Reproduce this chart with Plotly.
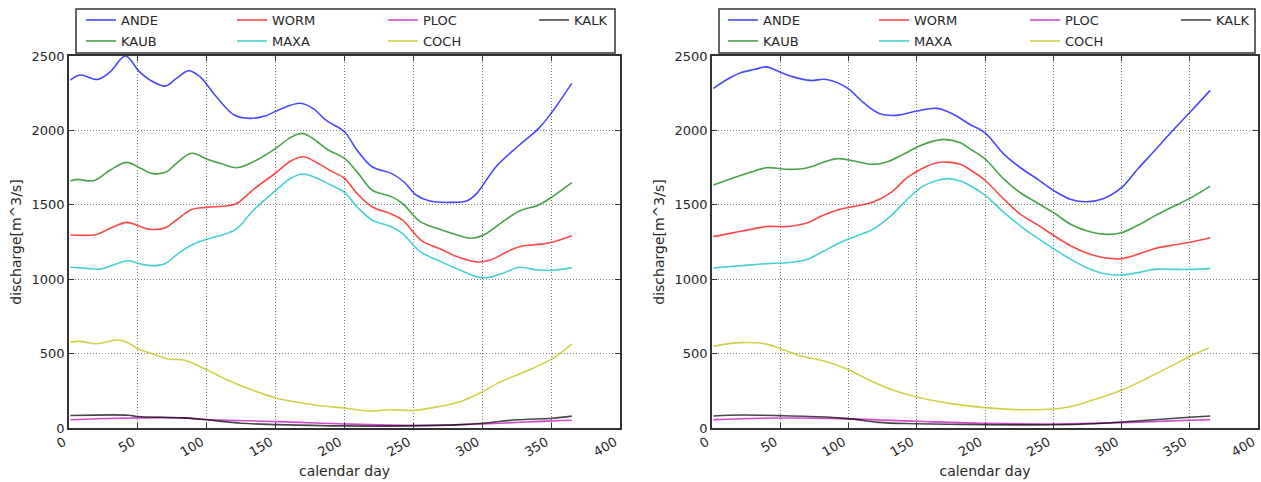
import plotly.graph_objects as go

W, H = 1261, 482

# ---------------- data: left panel (daily climatology) ----------------
ANDE_L_DAY = [1, 8, 21, 30, 41, 51, 60, 70, 78, 87, 95, 107, 120, 131, 143, 153, 168, 177, 187, 200,
              209, 220, 234, 243, 252, 262, 277, 289, 296, 310, 327, 341, 350, 365]
ANDE_L = [2338, 2372, 2343, 2395, 2500, 2395, 2332, 2298, 2350, 2401, 2361, 2226, 2103, 2081, 2099, 2141,
          2182, 2148, 2065, 1991, 1868, 1756, 1711, 1655, 1566, 1525, 1516, 1527, 1577, 1756, 1902, 2014,
          2115, 2316]

KAUB_L_DAY = [1, 6, 18, 30, 42, 52, 60, 70, 78, 89, 100, 112, 122, 134, 149, 161, 169, 177, 188, 200,
              209, 220, 234, 242, 255, 267, 282, 292, 301, 315, 327, 341, 351, 365]
KAUB_L = [1660, 1671, 1662, 1734, 1785, 1745, 1711, 1718, 1779, 1846, 1808, 1772, 1749, 1790, 1873, 1953,
          1980, 1946, 1870, 1812, 1723, 1599, 1555, 1510, 1387, 1342, 1297, 1275, 1297, 1387, 1458, 1499,
          1555, 1649]

WORM_L_DAY = [1, 20, 30, 42, 52, 59, 70, 78, 89, 100, 115, 122, 134, 149, 161, 170, 180, 190, 200, 209,
              220, 234, 242, 256, 270, 282, 296, 306, 318, 329, 341, 352, 365]
WORM_L = [1297, 1301, 1342, 1382, 1353, 1335, 1346, 1398, 1469, 1483, 1494, 1510, 1604, 1707, 1794, 1823,
          1783, 1728, 1678, 1577, 1487, 1438, 1398, 1259, 1201, 1151, 1116, 1129, 1185, 1223, 1234, 1252,
          1292]

MAXA_L_DAY = [1, 13, 23, 32, 43, 52, 60, 70, 78, 89, 100, 115, 122, 134, 149, 161, 170, 180, 190, 200,
              209, 220, 234, 242, 255, 270, 282, 296, 304, 316, 327, 340, 352, 365]
MAXA_L = [1080, 1073, 1068, 1095, 1124, 1102, 1091, 1106, 1163, 1230, 1268, 1308, 1342, 1465, 1588, 1678,
          1707, 1678, 1633, 1584, 1487, 1398, 1353, 1308, 1185, 1118, 1068, 1017, 1010, 1044, 1080, 1062,
          1060, 1078]

COCH_L_DAY = [1, 8, 20, 35, 42, 50, 61, 72, 84, 100, 115, 133, 150, 165, 184, 200, 217, 234, 250, 269,
              285, 300, 311, 330, 351, 365]
COCH_L = [577, 582, 566, 591, 577, 532, 498, 464, 455, 391, 323, 255, 202, 175, 148, 134, 114, 123, 118,
          145, 180, 243, 300, 375, 466, 566]

KALK_L_DAY = [1, 43, 50, 83, 100, 125, 152, 200, 250, 285, 300, 325, 351, 365]
KALK_L = [84, 86, 77, 68, 55, 32, 23, 14, 14, 23, 32, 55, 66, 80]

PLOC_L_DAY = [1, 35, 83, 100, 152, 200, 250, 300, 350, 365]
PLOC_L = [55, 66, 68, 57, 43, 27, 18, 27, 48, 52]

# ---------------- data: right panel (smoothed climatology) ----------------
ANDE_R_DAY = [1, 11, 21, 31, 40, 50, 60, 72, 84, 99, 111, 123, 135, 150, 165, 177, 189, 200, 214, 226,
              238, 251, 263, 275, 287, 300, 312, 324, 336, 351, 365]
ANDE_R = [2282, 2342, 2387, 2409, 2427, 2391, 2358, 2336, 2342, 2286, 2186, 2112, 2101, 2130, 2148, 2107,
          2040, 1984, 1839, 1749, 1675, 1592, 1536, 1521, 1543, 1615, 1742, 1861, 1984, 2130, 2269]

KAUB_R_DAY = [1, 16, 31, 40, 57, 70, 82, 92, 104, 118, 128, 140, 152, 162, 170, 182, 190, 200, 214, 226,
              238, 251, 263, 275, 290, 300, 312, 324, 336, 351, 365]
KAUB_R = [1633, 1682, 1727, 1749, 1738, 1749, 1787, 1810, 1794, 1772, 1787, 1839, 1895, 1928, 1940, 1917,
          1870, 1808, 1671, 1581, 1514, 1442, 1368, 1324, 1301, 1312, 1362, 1424, 1480, 1548, 1626]

WORM_R_DAY = [1, 16, 31, 40, 55, 70, 82, 94, 106, 118, 131, 143, 155, 165, 172, 182, 190, 200, 214, 226,
              238, 251, 263, 275, 287, 300, 312, 324, 336, 351, 365]
WORM_R = [1286, 1313, 1340, 1354, 1354, 1380, 1432, 1470, 1492, 1519, 1582, 1682, 1749, 1783, 1787, 1772,
          1730, 1665, 1536, 1436, 1368, 1290, 1223, 1174, 1144, 1138, 1167, 1205, 1227, 1250, 1279]

MAXA_R_DAY = [1, 21, 40, 57, 70, 82, 94, 106, 118, 131, 143, 155, 165, 173, 182, 190, 200, 214, 226, 238,
              251, 263, 275, 287, 300, 312, 324, 336, 351, 365]
MAXA_R = [1076, 1090, 1105, 1112, 1134, 1190, 1246, 1291, 1336, 1425, 1537, 1627, 1664, 1676, 1660, 1625,
          1565, 1447, 1357, 1279, 1200, 1133, 1076, 1038, 1028, 1044, 1066, 1066, 1066, 1073]

COCH_R_DAY = [1, 12, 22, 38, 50, 64, 83, 100, 117, 133, 150, 175, 200, 227, 250, 264, 280, 300, 319, 337,
              350, 364]
COCH_R = [549, 567, 574, 567, 534, 486, 448, 392, 314, 253, 208, 164, 137, 123, 128, 146, 191, 253, 336,
          419, 482, 538]

KALK_R_DAY = [1, 22, 50, 83, 100, 122, 150, 200, 250, 280, 300, 350, 365]
KALK_R = [81, 87, 83, 74, 63, 38, 29, 22, 22, 29, 40, 72, 81]

PLOC_R_DAY = [1, 50, 100, 150, 200, 250, 300, 350, 365]
PLOC_R = [56, 67, 61, 45, 31, 27, 36, 52, 56]

X_TICKS = [0, 50, 100, 150, 200, 250, 300, 350, 400]
Y_TICKS = [0, 500, 1000, 1500, 2000, 2500]

STATIONS = ["ANDE", "KAUB", "WORM", "MAXA", "PLOC", "COCH", "KALK"]
COLORS = {
    "ANDE": "rgba(0,0,255,0.72)",
    "KAUB": "rgba(0,128,0,0.72)",
    "WORM": "rgba(255,0,0,0.72)",
    "MAXA": "rgba(0,191,191,0.72)",
    "PLOC": "rgba(191,0,191,0.72)",
    "COCH": "rgba(191,191,0,0.72)",
    "KALK": "rgba(0,0,0,0.72)",
}
FIRST_ROW = {"ANDE", "WORM", "PLOC", "KALK"}

LEFT = {
    "ANDE": (ANDE_L_DAY, ANDE_L), "KAUB": (KAUB_L_DAY, KAUB_L), "WORM": (WORM_L_DAY, WORM_L),
    "MAXA": (MAXA_L_DAY, MAXA_L), "PLOC": (PLOC_L_DAY, PLOC_L), "COCH": (COCH_L_DAY, COCH_L),
    "KALK": (KALK_L_DAY, KALK_L),
}
RIGHT = {
    "ANDE": (ANDE_R_DAY, ANDE_R), "KAUB": (KAUB_R_DAY, KAUB_R), "WORM": (WORM_R_DAY, WORM_R),
    "MAXA": (MAXA_R_DAY, MAXA_R), "PLOC": (PLOC_R_DAY, PLOC_R), "COCH": (COCH_R_DAY, COCH_R),
    "KALK": (KALK_R_DAY, KALK_R),
}


def px_x(p):
    return p / W


def px_y(p):
    return 1 - p / H


FONT = "DejaVu Sans"
TXT = "#262626"

fig = go.Figure()

panels = [
    (LEFT, "x", "y", "legend", "legend2"),
    (RIGHT, "x2", "y2", "legend3", "legend4"),
]
for data, xa, ya, leg_top, leg_bot in panels:
    for name in STATIONS:
        days, q = data[name]
        fig.add_trace(go.Scatter(
            x=days, y=q, name=name, mode="lines",
            line=dict(color=COLORS[name], width=1.6, shape="spline", smoothing=1.0),
            xaxis=xa, yaxis=ya,
            legend=leg_top if name in FIRST_ROW else leg_bot,
            showlegend=True,
        ))

axis_common = dict(
    showline=True, linecolor="#333333", linewidth=1.5, mirror="ticks",
    ticks="inside", ticklen=5, tickcolor="#333333", tickwidth=1,
    showgrid=True, gridcolor="rgba(0,0,0,0.5)", griddash="1px,2px", gridwidth=1,
    zeroline=False, automargin=False, ticklabeloverflow="allow",
    tickfont=dict(family=FONT, size=13, color=TXT),
)

x_dom_l = [px_x(69), px_x(620)]
x_dom_r = [px_x(712), px_x(1258)]
y_dom = [px_y(428), px_y(56)]

xaxis_cfg = dict(axis_common, range=[0, 400], tickvals=X_TICKS, tickangle=-30, ticklabelshift=-5,
                 title=dict(text="calendar day", font=dict(family=FONT, size=14, color=TXT), standoff=8))
yaxis_cfg = dict(axis_common, range=[0, 2500], tickvals=Y_TICKS,
                 title=dict(text="discharge[m^3/s]", font=dict(family=FONT, size=14, color=TXT), standoff=7))

legend_common = dict(
    orientation="h", bgcolor="rgba(0,0,0,0)", borderwidth=0,
    font=dict(family=FONT, size=13, color=TXT),
    entrywidth=106, entrywidthmode="pixels", itemwidth=30,
    xanchor="left", yanchor="middle", xref="paper", yref="paper",
)

fig.update_layout(
    width=W, height=H,
    margin=dict(l=0, r=0, t=0, b=0, autoexpand=False),
    paper_bgcolor="white", plot_bgcolor="white",
    xaxis=dict(xaxis_cfg, domain=x_dom_l, anchor="y"),
    yaxis=dict(yaxis_cfg, domain=y_dom, anchor="x"),
    xaxis2=dict(xaxis_cfg, domain=x_dom_r, anchor="y2"),
    yaxis2=dict(yaxis_cfg, domain=y_dom, anchor="x2"),
    legend=dict(legend_common, x=px_x(81), y=px_y(20)),
    legend2=dict(legend_common, x=px_x(81), y=px_y(41)),
    legend3=dict(legend_common, x=px_x(723), y=px_y(20)),
    legend4=dict(legend_common, x=px_x(723), y=px_y(41)),
    shapes=[
        dict(type="rect", xref="paper", yref="paper",
             x0=px_x(76), x1=px_x(615), y0=px_y(53), y1=px_y(9),
             line=dict(color="#333333", width=1.5), fillcolor="rgba(0,0,0,0)"),
        dict(type="rect", xref="paper", yref="paper",
             x0=px_x(719), x1=px_x(1255), y0=px_y(53), y1=px_y(9),
             line=dict(color="#333333", width=1.5), fillcolor="rgba(0,0,0,0)"),
    ],
)

fig.write_html("out.html")
